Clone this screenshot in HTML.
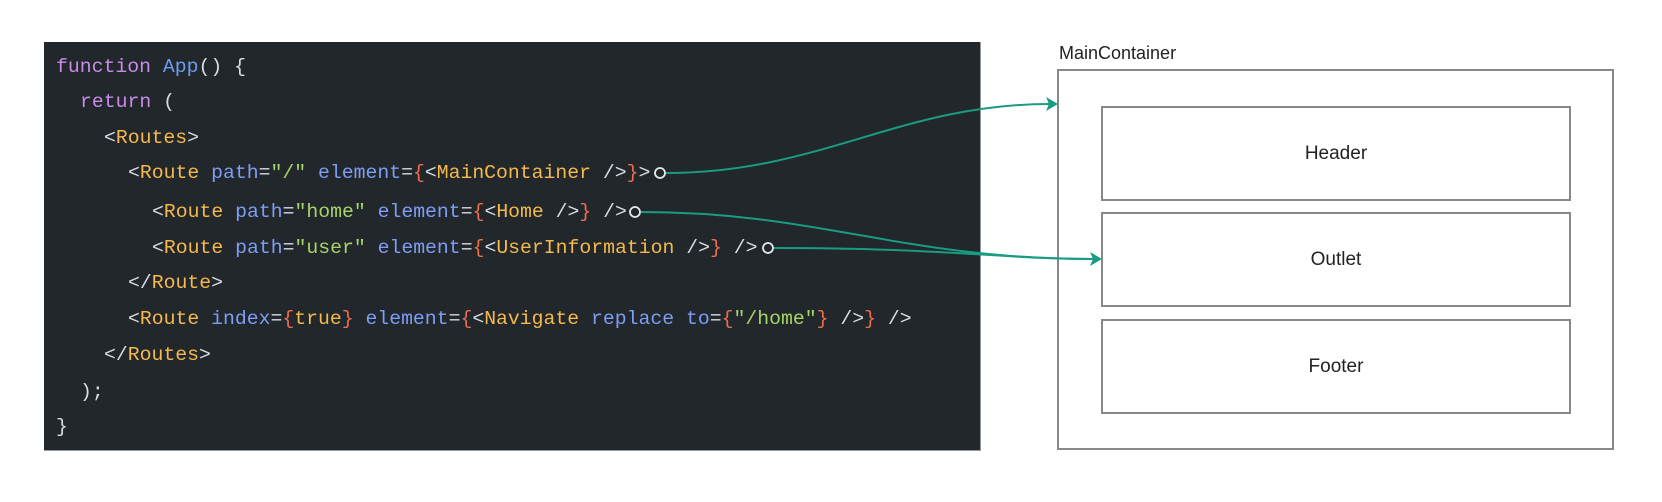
<!DOCTYPE html>
<html><head><meta charset="utf-8"><style>
body{margin:0;width:1662px;height:502px;background:#fff;position:relative;overflow:hidden;font-family:"Liberation Sans",sans-serif}
#code{position:absolute;left:44px;top:42px;width:936px;height:408px;background:#21272b;border-right:1px solid #999;border-bottom:1px solid #999}
.l{position:absolute;font-family:"Liberation Mono",monospace;font-size:19.8px;white-space:pre;color:#d8dde3;line-height:24px}
.k{color:#c88be8}.f{color:#6f9bf0}.t{color:#f5b94c}.a{color:#7e9df5}.s{color:#a8d36a}.b{color:#f06c4e}
.box{position:absolute;border:2px solid #888;box-sizing:border-box;display:flex;align-items:center;justify-content:center;font-size:19px;color:#222}
</style></head><body>
<div id="code"></div>
<div class="l" style="left:56px;top:55px"><span class="k">function</span> <span class="f">App</span>() {</div>
<div class="l" style="left:80px;top:90px"><span class="k">return</span> (</div>
<div class="l" style="left:104px;top:126px">&lt;<span class="t">Routes</span>&gt;</div>
<div class="l" style="left:128px;top:161px">&lt;<span class="t">Route</span> <span class="a">path</span>=<span class="s">"/"</span> <span class="a">element</span>=<span class="b">{</span>&lt;<span class="t">MainContainer</span> /&gt;<span class="b">}</span>&gt;</div>
<div class="l" style="left:152px;top:200px">&lt;<span class="t">Route</span> <span class="a">path</span>=<span class="s">"home"</span> <span class="a">element</span>=<span class="b">{</span>&lt;<span class="t">Home</span> /&gt;<span class="b">}</span> /&gt;</div>
<div class="l" style="left:152px;top:236px">&lt;<span class="t">Route</span> <span class="a">path</span>=<span class="s">"user"</span> <span class="a">element</span>=<span class="b">{</span>&lt;<span class="t">UserInformation</span> /&gt;<span class="b">}</span> /&gt;</div>
<div class="l" style="left:128px;top:271px">&lt;/<span class="t">Route</span>&gt;</div>
<div class="l" style="left:128px;top:307px">&lt;<span class="t">Route</span> <span class="a">index</span>=<span class="b">{</span><span class="t">true</span><span class="b">}</span> <span class="a">element</span>=<span class="b">{</span>&lt;<span class="t">Navigate</span> <span class="a">replace</span> <span class="a">to</span>=<span class="b">{</span><span class="s">"/home"</span><span class="b">}</span> /&gt;<span class="b">}</span> /&gt;</div>
<div class="l" style="left:104px;top:343px">&lt;/<span class="t">Routes</span>&gt;</div>
<div class="l" style="left:80px;top:380px">);</div>
<div class="l" style="left:56px;top:415px">}</div>

<div style="position:absolute;left:1059px;top:43px;font-size:18px;color:#222">MainContainer</div>
<div class="box" style="left:1057px;top:69px;width:557px;height:381px"></div>
<div class="box" style="left:1101px;top:106px;width:470px;height:95px">Header</div>
<div class="box" style="left:1101px;top:212px;width:470px;height:95px">Outlet</div>
<div class="box" style="left:1101px;top:319px;width:470px;height:95px">Footer</div>

<svg width="1662" height="502" style="position:absolute;left:0;top:0">
<g fill="none" stroke="#1a9c80" stroke-width="2">
<path d="M666 173 C820 173 900 104 1050 104"/>
<path d="M641 212 C820 212 900 259 1094 259"/>
<path d="M774 248 C950 248 1000 259 1094 259"/>
</g>
<g fill="#1a9c80">
<path d="M1058 104 L1046 97 L1049 104 L1046 111Z"/>
<path d="M1102 259 L1090 252 L1093 259 L1090 266Z"/>
</g>
<g fill="#21272b" stroke="#e8e8e8" stroke-width="1.8">
<circle cx="660" cy="173" r="5"/>
<circle cx="635" cy="212" r="5"/>
<circle cx="768" cy="248" r="5"/>
</g>
</svg>
</body></html>
